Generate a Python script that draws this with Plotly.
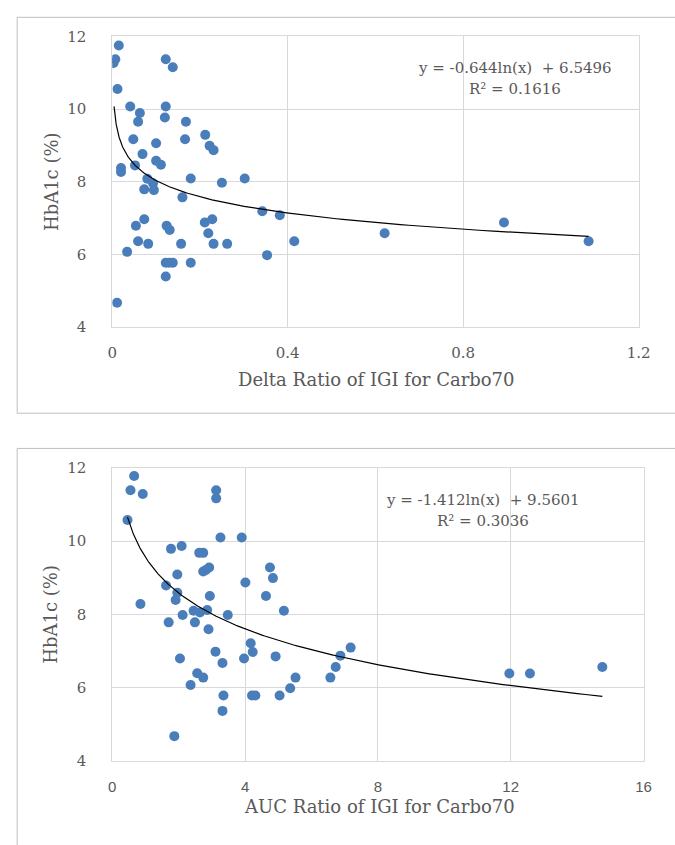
import numpy as np
import plotly.graph_objects as go

# ---- Data: top chart (Delta Ratio of IGI for Carbo70 vs HbA1c) ----
delta_x = [0.015, 0.007, 0.003, 0.012, 0.041, 0.063, 0.059, 0.048, 0.069, 0.052,
           0.020, 0.020, 0.122, 0.138, 0.122, 0.120, 0.168, 0.100, 0.166, 0.212,
           0.222, 0.231, 0.100, 0.111, 0.080, 0.093, 0.073, 0.095, 0.179, 0.250,
           0.302, 0.160, 0.342, 0.382, 0.073, 0.054, 0.124, 0.131, 0.211, 0.228,
           0.219, 0.059, 0.082, 0.157, 0.231, 0.262, 0.415, 0.034, 0.353, 0.122,
           0.130, 0.138, 0.179, 0.122, 0.011, 0.621, 0.893, 1.086]
delta_y = [11.75, 11.37, 11.27, 10.55, 10.07, 9.89, 9.65, 9.17, 8.76, 8.45,
           8.38, 8.27, 11.37, 11.15, 10.07, 9.77, 9.65, 9.06, 9.17, 9.29,
           8.99, 8.87, 8.58, 8.47, 8.08, 7.96, 7.79, 7.77, 8.09, 7.97,
           8.09, 7.57, 7.19, 7.08, 6.97, 6.79, 6.79, 6.67, 6.88, 6.97,
           6.58, 6.36, 6.29, 6.29, 6.29, 6.29, 6.36, 6.07, 5.98, 5.77,
           5.77, 5.77, 5.77, 5.39, 4.67, 6.58, 6.88, 6.36]
delta_coef_a = -0.644
delta_coef_b = 6.5496
delta_fit_range = [0.0042, 1.086]

# ---- Data: bottom chart (AUC Ratio of IGI for Carbo70 vs HbA1c) ----
auc_x = [0.66, 0.55, 0.92, 3.13, 3.13, 0.46, 3.26, 3.90, 1.77, 2.09,
         2.62, 2.74, 2.74, 2.82, 2.92, 1.96, 4.75, 4.84, 4.01, 1.62,
         1.96, 1.91, 2.94, 4.63, 0.85, 2.45, 2.64, 2.86, 5.17, 2.12,
         2.49, 1.70, 3.48, 2.90, 4.17, 4.23, 4.92, 3.97, 3.11, 2.04,
         3.32, 2.56, 2.74, 2.36, 3.35, 3.32, 4.21, 4.31, 5.04, 5.36,
         5.52, 1.87, 6.57, 6.73, 6.87, 7.18, 11.96, 12.58, 14.76]
auc_y = [11.78, 11.39, 11.29, 11.39, 11.17, 10.58, 10.10, 10.10, 9.79, 9.87,
         9.68, 9.68, 9.17, 9.21, 9.28, 9.09, 9.28, 8.99, 8.87, 8.79,
         8.59, 8.39, 8.50, 8.50, 8.28, 8.10, 8.05, 8.12, 8.10, 7.98,
         7.78, 7.78, 7.98, 7.59, 7.21, 6.97, 6.85, 6.79, 6.98, 6.79,
         6.67, 6.39, 6.27, 6.07, 5.78, 5.36, 5.78, 5.78, 5.78, 5.98,
         6.27, 4.67, 6.27, 6.56, 6.87, 7.09, 6.38, 6.38, 6.56]
auc_coef_a = -1.412
auc_coef_b = 9.5601
auc_fit_range = [0.46, 14.76]

top_xticks = [0, 0.4, 0.8, 1.2]
top_xtick_labels = ["0", "0.4", "0.8", "1.2"]
bot_xticks = [0, 4, 8, 12, 16]
y_ticks = [4, 6, 8, 10, 12]

top_eq = ["y = -0.644ln(x)  + 6.5496", "R² = 0.1616"]
bot_eq = ["y = -1.412ln(x)  + 9.5601", "R² = 0.3036"]
top_xtitle = "Delta Ratio of IGI for Carbo70"
bot_xtitle = "AUC Ratio of IGI for Carbo70"
ytitle = "HbA1c (%)"

# ---- Figure ----
W, H = 675, 845
MARKER = "#4a7ebb"
GRID = "#d9d9d9"
TXT = "#595959"
SERIF = "DejaVu Serif, Liberation Serif, serif"
SANS = "Liberation Sans, Arial, sans-serif"

def px_x(p):
    return p / W

def px_y(p):
    return 1 - p / H

fig = go.Figure()

# Top scatter + trend
fig.add_trace(go.Scatter(x=delta_x, y=delta_y, mode="markers",
                         marker=dict(color=MARKER, size=10),
                         xaxis="x", yaxis="y", showlegend=False))
tx = np.geomspace(delta_fit_range[0], delta_fit_range[1], 200)
fig.add_trace(go.Scatter(x=tx, y=delta_coef_a * np.log(tx) + delta_coef_b,
                         mode="lines", line=dict(color="black", width=1.2),
                         xaxis="x", yaxis="y", showlegend=False))

# Bottom scatter + trend
fig.add_trace(go.Scatter(x=auc_x, y=auc_y, mode="markers",
                         marker=dict(color=MARKER, size=10),
                         xaxis="x2", yaxis="y2", showlegend=False))
bx = np.geomspace(auc_fit_range[0], auc_fit_range[1], 200)
fig.add_trace(go.Scatter(x=bx, y=auc_coef_a * np.log(bx) + auc_coef_b,
                         mode="lines", line=dict(color="black", width=1.2),
                         xaxis="x2", yaxis="y2", showlegend=False))

common_axis = dict(showgrid=True, gridcolor=GRID, gridwidth=1,
                   showline=True, linecolor=GRID, linewidth=1, mirror=True,
                   zeroline=False, ticks="outside", tickcolor="rgba(0,0,0,0)")

fig.update_layout(
    width=W, height=H,
    margin=dict(l=0, r=0, t=0, b=0),
    paper_bgcolor="white", plot_bgcolor="white",
    xaxis=dict(domain=[px_x(110), px_x(650)], range=[0, 1.2],
               tickvals=top_xticks, ticktext=top_xtick_labels, ticklen=12,
               tickfont=dict(family=SERIF, size=15, color=TXT),
               anchor="y", **common_axis),
    yaxis=dict(domain=[px_y(325), px_y(28)], range=[4, 12],
               tickvals=y_ticks, ticklen=22,
               tickfont=dict(family=SERIF, size=15, color=TXT),
               anchor="x", **common_axis),
    xaxis2=dict(domain=[px_x(110), px_x(655)], range=[0, 16],
                tickvals=bot_xticks, ticklen=12,
                tickfont=dict(family=SANS, size=15, color=TXT),
                anchor="y2", **common_axis),
    yaxis2=dict(domain=[px_y(768), px_y(469)], range=[4, 12],
                tickvals=y_ticks, ticklen=22,
                tickfont=dict(family=SERIF, size=15, color=TXT),
                anchor="x2", **common_axis),
)

# Chart boxes
fig.add_shape(type="rect", xref="paper", yref="paper",
              x0=px_x(12.5), x1=1.02, y0=px_y(413), y1=px_y(8.5),
              line=dict(color="#bfbfbf", width=1), fillcolor="rgba(0,0,0,0)")
fig.add_shape(type="rect", xref="paper", yref="paper",
              x0=px_x(12.5), x1=1.02, y0=-0.02, y1=px_y(449),
              line=dict(color="#bfbfbf", width=1), fillcolor="rgba(0,0,0,0)")

def ann(text, x, y, size, family=SERIF, angle=0):
    fig.add_annotation(text=text, xref="paper", yref="paper",
                       x=px_x(x), y=px_y(y), showarrow=False,
                       xanchor="center", yanchor="middle", textangle=angle,
                       font=dict(family=family, size=size, color=TXT))

# Axis titles
ann(top_xtitle, 381, 379, 18)
ann(ytitle, 47, 176, 18, angle=-90)
ann(bot_xtitle, 384, 815, 18)
ann(ytitle, 47, 618, 18, angle=-90)

# Equations
ann(top_eq[0], 523, 60, 15)
ann(top_eq[1], 523, 82, 15)
ann(bot_eq[0], 490, 502, 15)
ann(bot_eq[1], 490, 523, 15)

fig.write_html("out.html",
               config={"displayModeBar": False},
               post_script="document.body.style.margin='0';document.body.style.overflow='hidden';")
